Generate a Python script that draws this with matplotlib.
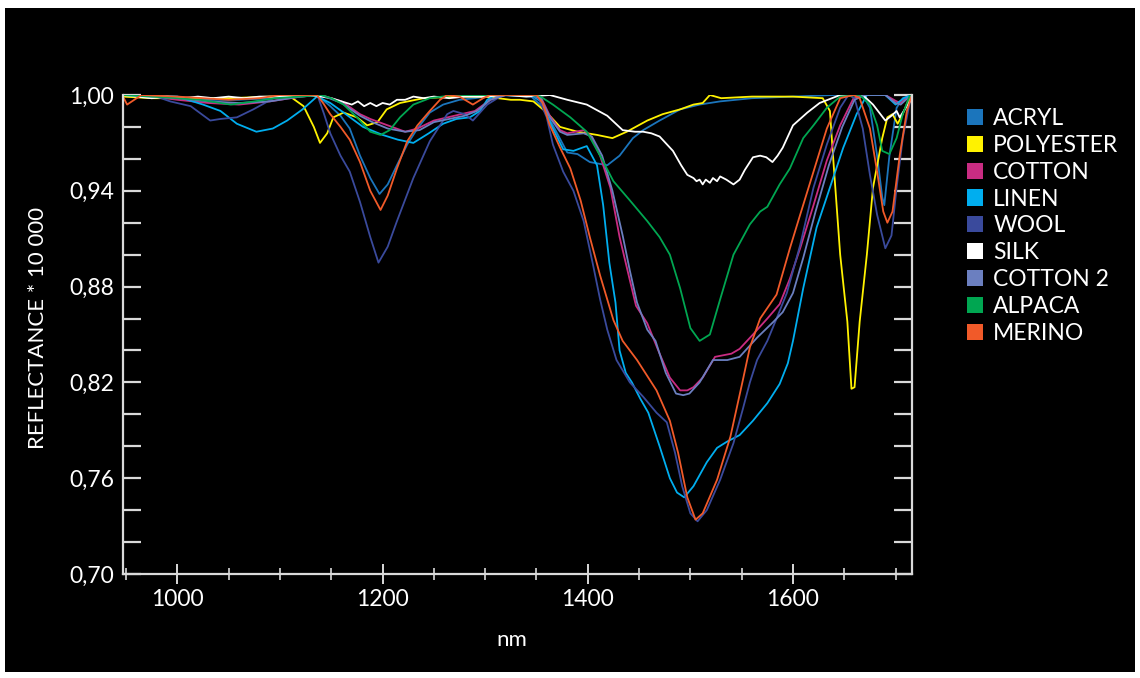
import matplotlib
matplotlib.use("Agg")
import matplotlib.pyplot as plt
from matplotlib.patches import Patch, Rectangle
from matplotlib.ticker import MultipleLocator, FixedLocator, FuncFormatter

plt.rcParams["font.family"] = ["Lato", "DejaVu Sans"]

# --- data (wavelength nm, reflectance) ---
names = ["ACRYL", "POLYESTER", "COTTON", "LINEN", "WOOL", "SILK", "COTTON 2", "ALPACA", "MERINO"]
colors = ["#1b75bc", "#fff200", "#c92c82", "#00aeef", "#3a4a9c", "#ffffff", "#6b7fc0", "#00a651", "#f15a29"]
y_major = [0.70, 0.76, 0.82, 0.88, 0.94, 1.00]
y_minor = [0.72, 0.74, 0.78, 0.80, 0.84, 0.86, 0.90, 0.92, 0.96, 0.98]

acryl_nm = [947, 975, 1000, 1030, 1060, 1090, 1120, 1136, 1149, 1159, 1168, 1178, 1188, 1197, 1205, 1214, 1224,
            1234, 1246, 1259, 1275, 1290, 1310, 1345, 1355, 1366, 1380, 1390, 1402, 1419, 1431, 1444, 1454, 1470,
            1490, 1509, 1529, 1560, 1600, 1640, 1668, 1675, 1682, 1687, 1689, 1694, 1701, 1707, 1716]
acryl_r = [1.000, 0.999, 0.999, 0.997, 0.997, 0.998, 0.999, 1.000, 0.993, 0.987, 0.979, 0.962, 0.948, 0.938, 0.944,
           0.956, 0.969, 0.979, 0.989, 0.994, 0.997, 0.998, 1.000, 0.999, 0.993, 0.981, 0.964, 0.963, 0.958, 0.956,
           0.962, 0.973, 0.978, 0.984, 0.991, 0.994, 0.996, 0.998, 0.999, 1.000, 1.000, 0.992, 0.962, 0.936, 0.931,
           0.962, 0.992, 0.998, 1.000]

polyester_nm = [947, 975, 1000, 1050, 1090, 1110, 1123, 1133, 1139, 1146, 1152, 1162, 1175, 1185, 1195, 1204, 1217,
                1240, 1270, 1300, 1325, 1334, 1347, 1360, 1373, 1390, 1409, 1424, 1438, 1458, 1473, 1490, 1503, 1512,
                1519, 1530, 1560, 1600, 1629, 1636, 1639, 1646, 1653, 1657, 1660, 1665, 1672, 1678, 1687, 1692, 1697,
                1702, 1707, 1712, 1716]
polyester_r = [0.999, 0.998, 0.998, 0.998, 0.999, 0.999, 0.993, 0.980, 0.970, 0.976, 0.986, 0.989, 0.986, 0.981,
               0.983, 0.991, 0.995, 0.998, 0.999, 0.999, 0.997, 0.997, 0.996, 0.989, 0.980, 0.977, 0.975, 0.973,
               0.977, 0.984, 0.988, 0.991, 0.994, 0.995, 1.000, 0.998, 0.999, 0.999, 0.998, 0.990, 0.962, 0.900,
               0.858, 0.816, 0.817, 0.858, 0.900, 0.942, 0.973, 0.986, 0.988, 0.982, 0.988, 0.996, 0.999]

cotton_nm = [947, 975, 1000, 1030, 1060, 1090, 1120, 1140, 1160, 1178, 1188, 1205, 1222, 1234, 1250, 1270, 1290,
             1305, 1320, 1345, 1354, 1363, 1373, 1380, 1396, 1402, 1412, 1422, 1431, 1441, 1447, 1458, 1470, 1480,
             1490, 1497, 1503, 1512, 1524, 1532, 1540, 1548, 1561, 1575, 1587, 1597, 1607, 1620, 1633, 1646, 1659,
             1668, 1690, 1701, 1705, 1710, 1716]
cotton_r = [1.000, 0.999, 0.997, 0.995, 0.994, 0.996, 0.999, 1.000, 0.996, 0.988, 0.985, 0.981, 0.977, 0.979, 0.984,
            0.987, 0.990, 0.997, 1.000, 1.000, 0.999, 0.987, 0.978, 0.976, 0.978, 0.975, 0.962, 0.942, 0.911, 0.884,
            0.868, 0.857, 0.838, 0.823, 0.815, 0.815, 0.817, 0.823, 0.836, 0.837, 0.838, 0.841, 0.850, 0.860, 0.869,
            0.885, 0.904, 0.931, 0.959, 0.981, 0.998, 1.000, 1.000, 0.996, 0.995, 0.998, 1.000]

linen_nm = [947, 975, 1000, 1010, 1025, 1042, 1058, 1077, 1093, 1107, 1122, 1136, 1149, 1162, 1181, 1200, 1215,
            1230, 1245, 1259, 1272, 1285, 1295, 1302, 1310, 1345, 1354, 1366, 1376, 1386, 1399, 1409, 1415, 1421,
            1427, 1431, 1437, 1443, 1451, 1459, 1470, 1480, 1487, 1494, 1503, 1516, 1526, 1536, 1548, 1561, 1575,
            1587, 1595, 1600, 1610, 1623, 1636, 1649, 1662, 1672, 1690, 1700, 1708, 1716]
linen_r = [1.000, 1.000, 0.999, 0.997, 0.994, 0.990, 0.982, 0.977, 0.979, 0.984, 0.991, 0.999, 0.995, 0.989, 0.980,
           0.975, 0.972, 0.970, 0.976, 0.982, 0.985, 0.986, 0.990, 0.997, 1.000, 1.000, 0.996, 0.979, 0.966, 0.965,
           0.968, 0.956, 0.931, 0.895, 0.870, 0.840, 0.826, 0.820, 0.810, 0.801, 0.780, 0.760, 0.751, 0.748, 0.755,
           0.770, 0.779, 0.783, 0.787, 0.796, 0.807, 0.819, 0.832, 0.846, 0.879, 0.917, 0.942, 0.967, 0.988, 1.000,
           1.000, 0.994, 0.998, 1.000]

wool_nm = [947, 975, 993, 1013, 1032, 1042, 1058, 1074, 1091, 1100, 1130, 1137, 1143, 1149, 1159, 1168, 1178, 1188,
           1196, 1205, 1214, 1230, 1246, 1263, 1269, 1280, 1288, 1302, 1317, 1345, 1352, 1360, 1366, 1376, 1386, 1396,
           1405, 1412, 1419, 1428, 1441, 1454, 1467, 1477, 1485, 1492, 1500, 1507, 1516, 1529, 1542, 1551, 1558, 1565,
           1575, 1584, 1594, 1607, 1620, 1633, 1646, 1654, 1660, 1668, 1675, 1682, 1690, 1696, 1701, 1707, 1714, 1716]
wool_r = [1.000, 1.000, 0.996, 0.993, 0.984, 0.985, 0.986, 0.991, 0.997, 1.000, 1.000, 0.999, 0.988, 0.976, 0.962,
          0.952, 0.933, 0.911, 0.895, 0.905, 0.921, 0.948, 0.971, 0.988, 0.990, 0.988, 0.984, 0.994, 1.000, 1.000,
          0.998, 0.986, 0.969, 0.952, 0.940, 0.921, 0.894, 0.872, 0.853, 0.834, 0.820, 0.811, 0.801, 0.795, 0.776,
          0.755, 0.738, 0.733, 0.740, 0.759, 0.782, 0.803, 0.820, 0.834, 0.846, 0.860, 0.876, 0.906, 0.942, 0.969,
          0.992, 1.000, 0.998, 0.979, 0.950, 0.925, 0.904, 0.912, 0.942, 0.973, 0.996, 0.999]

silk_nm = [947, 960, 975, 990, 1005, 1020, 1035, 1050, 1065, 1080, 1100, 1120, 1140, 1150, 1160, 1170, 1176, 1182,
           1188, 1194, 1200, 1207, 1214, 1222, 1230, 1240, 1250, 1265, 1280, 1300, 1320, 1340, 1363, 1380, 1399,
           1419, 1434, 1446, 1454, 1462, 1470, 1483, 1491, 1497, 1503, 1506, 1509, 1512, 1515, 1519, 1522, 1526,
           1529, 1535, 1542, 1548, 1553, 1561, 1568, 1574, 1580, 1585, 1590, 1600, 1614, 1626, 1646, 1668, 1678,
           1690, 1696, 1701, 1704, 1708, 1712, 1716]
silk_r = [1.000, 0.999, 0.998, 0.999, 0.998, 0.999, 0.998, 0.999, 0.998, 0.999, 0.999, 1.000, 0.999, 0.998, 0.996,
          0.994, 0.996, 0.993, 0.995, 0.993, 0.995, 0.994, 0.997, 0.997, 0.999, 0.998, 0.999, 0.998, 0.999, 0.999,
          1.000, 0.999, 1.000, 0.997, 0.994, 0.987, 0.978, 0.977, 0.977, 0.976, 0.974, 0.965, 0.956, 0.950, 0.948,
          0.946, 0.947, 0.944, 0.947, 0.945, 0.948, 0.946, 0.949, 0.947, 0.944, 0.947, 0.953, 0.961, 0.962, 0.961,
          0.958, 0.962, 0.967, 0.981, 0.989, 0.995, 1.000, 1.000, 0.994, 0.984, 0.987, 0.990, 0.986, 0.990, 0.994,
          0.998]

cotton2_nm = [947, 975, 1000, 1030, 1060, 1090, 1120, 1140, 1160, 1178, 1190, 1205, 1222, 1236, 1250, 1265, 1280,
              1292, 1305, 1320, 1345, 1354, 1363, 1373, 1380, 1396, 1404, 1414, 1424, 1434, 1441, 1448, 1458, 1466,
              1476, 1486, 1493, 1499, 1509, 1522, 1536, 1548, 1565, 1581, 1590, 1600, 1610, 1622, 1635, 1648, 1660,
              1670, 1690, 1700, 1705, 1710, 1716]
cotton2_r = [1.000, 0.999, 0.998, 0.996, 0.995, 0.996, 0.999, 1.000, 0.995, 0.987, 0.983, 0.979, 0.977, 0.978, 0.983,
             0.985, 0.987, 0.990, 0.997, 1.000, 1.000, 0.998, 0.986, 0.977, 0.975, 0.976, 0.974, 0.962, 0.940, 0.912,
             0.890, 0.870, 0.853, 0.846, 0.826, 0.813, 0.812, 0.813, 0.820, 0.834, 0.834, 0.836, 0.848, 0.858, 0.864,
             0.876, 0.898, 0.927, 0.956, 0.980, 0.997, 1.000, 1.000, 0.995, 0.994, 0.997, 1.000]

alpaca_nm = [947, 975, 1000, 1022, 1052, 1075, 1095, 1120, 1140, 1150, 1162, 1175, 1188, 1198, 1207, 1217, 1230, 1246,
             1270, 1345, 1354, 1366, 1383, 1399, 1412, 1425, 1441, 1458, 1470, 1480, 1490, 1500, 1509, 1519, 1529,
             1542, 1558, 1568, 1575, 1587, 1597, 1610, 1620, 1633, 1646, 1665, 1675, 1682, 1687, 1694, 1701, 1707,
             1714, 1716]
alpaca_r = [1.000, 0.999, 0.998, 0.997, 0.994, 0.996, 0.998, 0.999, 1.000, 0.998, 0.994, 0.986, 0.977, 0.975, 0.978,
            0.986, 0.994, 0.998, 1.000, 1.000, 0.999, 0.994, 0.986, 0.977, 0.962, 0.946, 0.934, 0.921, 0.911, 0.900,
            0.879, 0.854, 0.846, 0.850, 0.872, 0.900, 0.919, 0.927, 0.930, 0.944, 0.954, 0.973, 0.981, 0.992, 0.999,
            1.000, 0.994, 0.981, 0.965, 0.963, 0.973, 0.988, 1.000, 1.000]

merino_nm = [947, 951, 958, 965, 1000, 1050, 1080, 1100, 1136, 1142, 1149, 1159, 1168, 1178, 1188, 1198, 1205, 1214,
             1224, 1234, 1246, 1256, 1263, 1275, 1288, 1298, 1305, 1350, 1356, 1363, 1373, 1383, 1393, 1402, 1412,
             1425, 1434, 1448, 1458, 1467, 1480, 1488, 1497, 1505, 1512, 1526, 1539, 1551, 1558, 1568, 1584, 1597,
             1607, 1620, 1633, 1646, 1659, 1665, 1675, 1682, 1688, 1692, 1697, 1704, 1711, 1716]
merino_r = [0.999, 0.994, 0.997, 1.000, 0.999, 0.997, 0.998, 1.000, 1.000, 0.995, 0.988, 0.980, 0.972, 0.958, 0.940,
            0.928, 0.937, 0.954, 0.971, 0.981, 0.990, 0.997, 1.000, 0.999, 0.994, 0.998, 1.000, 1.000, 0.995, 0.981,
            0.967, 0.954, 0.934, 0.911, 0.887, 0.859, 0.846, 0.834, 0.824, 0.815, 0.796, 0.776, 0.748, 0.734, 0.738,
            0.759, 0.786, 0.821, 0.842, 0.860, 0.875, 0.904, 0.925, 0.952, 0.979, 0.998, 1.000, 0.998, 0.979, 0.952,
            0.927, 0.920, 0.927, 0.962, 0.990, 1.000]

series = [(acryl_nm, acryl_r), (polyester_nm, polyester_r), (cotton_nm, cotton_r), (linen_nm, linen_r),
          (wool_nm, wool_r), (silk_nm, silk_r), (cotton2_nm, cotton2_r), (alpaca_nm, alpaca_r),
          (merino_nm, merino_r)]

W, H = 1140, 678
fig = plt.figure(figsize=(W / 100, H / 100), dpi=100, facecolor="white")
# black panel inside a thin white margin (kept behind the axes)
fig.patches.append(Rectangle((5 / W, 6 / H), 1130 / W, 664 / H, transform=fig.transFigure,
                             facecolor="black", edgecolor="none", zorder=-10))

ax = fig.add_axes([123 / W, (H - 574) / H, (912 - 123) / W, (574 - 95) / H])
ax.set_facecolor("black")

for (nm, r), c in zip(series, colors):
    ax.plot(nm, r, color=c, lw=1.3, solid_joinstyle="round")

ax.set_xlim(947, 1716)
ax.set_ylim(0.70, 1.00)

spine_c = "#d9d9d9"
ax.spines["top"].set_visible(False)
for s in ("left", "right", "bottom"):
    ax.spines[s].set_color(spine_c)
    ax.spines[s].set_linewidth(1.6)

ax.xaxis.set_major_locator(MultipleLocator(200))
ax.xaxis.set_minor_locator(MultipleLocator(50))
ax.yaxis.set_major_locator(FixedLocator(y_major))
ax.yaxis.set_minor_locator(FixedLocator(y_minor))
ax.yaxis.set_major_formatter(FuncFormatter(lambda v, p: f"{v:.2f}".replace(".", ",")))

ax.tick_params(axis="y", which="both", direction="in", length=13, width=1.6, color=spine_c,
               left=True, right=True, labelsize=16.5, labelcolor="white", pad=6.5)
ax.tick_params(axis="x", which="major", direction="inout", length=14, width=1.4, color=spine_c,
               labelsize=16.5, labelcolor="white", pad=4)
ax.tick_params(axis="x", which="minor", direction="inout", length=9, width=1.2, color=spine_c)

ax.set_ylabel("REFLECTANCE * 10 000", color="white", fontsize=16)
ax.yaxis.set_label_coords(-0.095, 0.514)
ax.set_xlabel("nm", color="white", fontsize=16)
ax.xaxis.set_label_coords(0.493, -0.116)

handles = [Patch(facecolor=c, edgecolor="none") for c in colors]
leg = ax.legend(handles, names, loc="upper left", bbox_to_anchor=(967 / W, 1 - 108 / H),
                bbox_transform=fig.transFigure, frameon=False, fontsize=16.5, labelcolor="white",
                handlelength=0.7, handleheight=0.7, handletextpad=0.45, labelspacing=0.255,
                borderpad=0, borderaxespad=0)

fig.savefig("out.png", dpi=100, facecolor=fig.get_facecolor())
